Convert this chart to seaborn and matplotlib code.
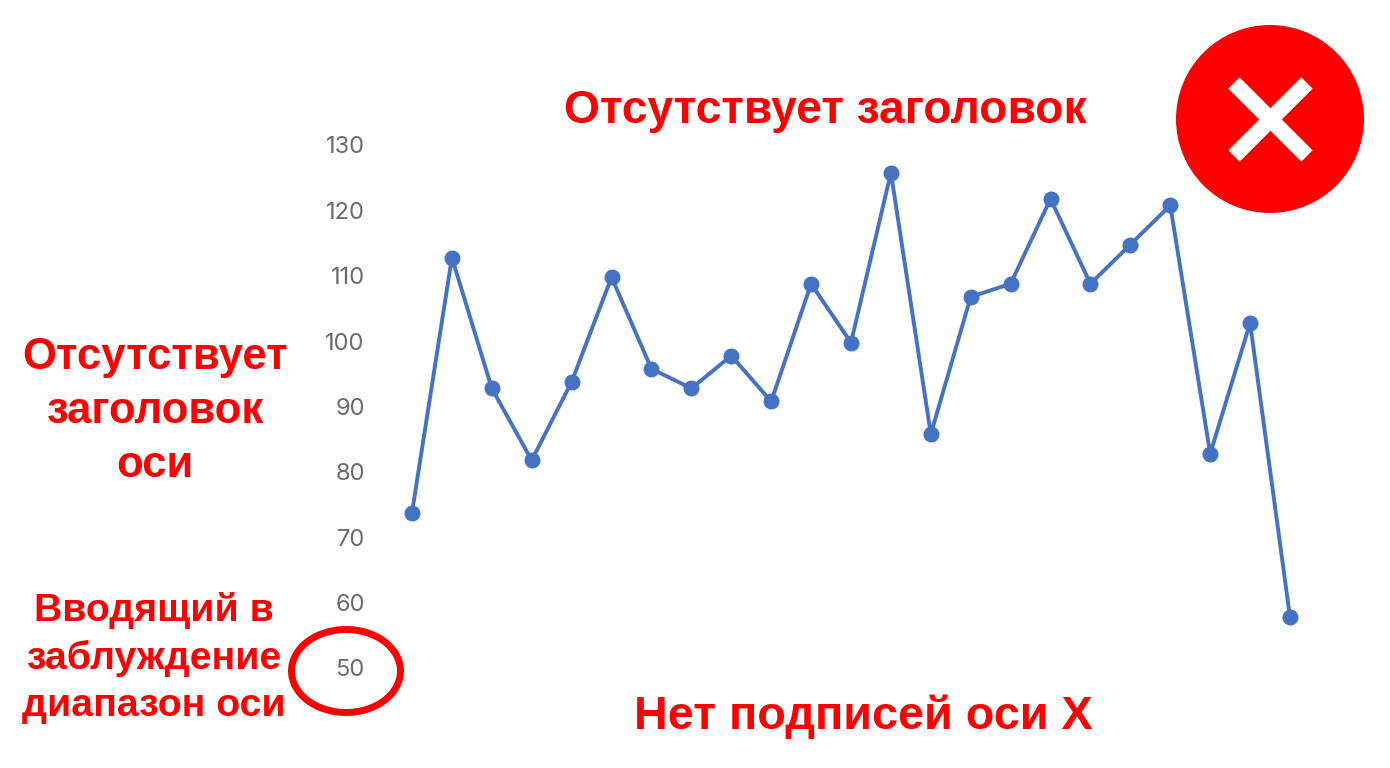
"""Line chart with red callouts marking what is wrong with it."""

import matplotlib.pyplot as plt
import pandas as pd
import seaborn as sns
from matplotlib.patches import Circle, Ellipse
from matplotlib.transforms import ScaledTranslation

WIDTH, HEIGHT = 1390, 768
RED = "#ff0000"
BLUE = "#4472c4"

points = list(range(23))
values = [74, 113, 93, 82, 94, 110, 96, 93, 98, 91, 109, 100, 126,
          86, 107, 109, 122, 109, 115, 121, 83, 103, 58]
y_ticks = [50, 60, 70, 80, 90, 100, 110, 120, 130]

title_text = "Отсутствует заголовок"
y_note = "Отсутствует\nзаголовок\nоси"
range_note = "Вводящий в\nзаблуждение\nдиапазон оси"
x_note = "Нет подписей оси X"

sns.set_theme(style="white")
plt.rcParams["font.family"] = ["Liberation Sans", "DejaVu Sans"]

fig = plt.figure(figsize=(WIDTH / 100, HEIGHT / 100), dpi=100, facecolor="white")

# the plot area runs from the first to the last point, 130 to 50
ax = fig.add_axes([412 / WIDTH, 1 - 669.5 / HEIGHT, 878 / WIDTH, 523 / HEIGHT])
data = pd.DataFrame({"point": points, "value": values})
sns.lineplot(data=data, x="point", y="value", color=BLUE, linewidth=2.8, marker="o",
             markersize=11.5, markeredgewidth=0, clip_on=False, ax=ax)
ax.set_xlim(points[0], points[-1])
ax.set_ylim(y_ticks[0], y_ticks[-1])
ax.set_xticks([])
ax.set_yticks(y_ticks)
ax.set_xlabel("")
ax.set_ylabel("")
ax.tick_params(axis="y", length=0, pad=34, labelsize=17, labelcolor="#6b6b6b")
nudge = ScaledTranslation(0, 1.5 / 100, fig.dpi_scale_trans)
for label in ax.get_yticklabels():
    label.set_family("Inter")
    label.set_transform(label.get_transform() + nudge)
sns.despine(ax=ax, left=True, bottom=True)

# overlay in pixel coordinates for the callouts
over = fig.add_axes([0, 0, 1, 1], facecolor="none")
over.set_xlim(0, WIDTH)
over.set_ylim(HEIGHT, 0)
over.axis("off")

note_style = dict(color=RED, weight="bold", ha="center", va="center")
over.text(825, 111, title_text, fontsize=33.3, **note_style)
over.text(155, 411.5, y_note, fontsize=31.5, linespacing=1.4, **note_style)
over.text(154, 658, range_note, fontsize=28.3, linespacing=1.38, **note_style)
over.text(863, 717, x_note, fontsize=33.7, **note_style)

over.add_patch(Ellipse((346, 671), 109, 83, fill=False, edgecolor=RED, linewidth=5))
over.add_patch(Circle((1270, 119), 94, facecolor=RED, edgecolor="none"))
over.plot([1234, 1307], [83, 156], color="white", linewidth=11.5, solid_capstyle="butt")
over.plot([1307, 1234], [83, 156], color="white", linewidth=11.5, solid_capstyle="butt")

fig.savefig("out.png", dpi=100)
